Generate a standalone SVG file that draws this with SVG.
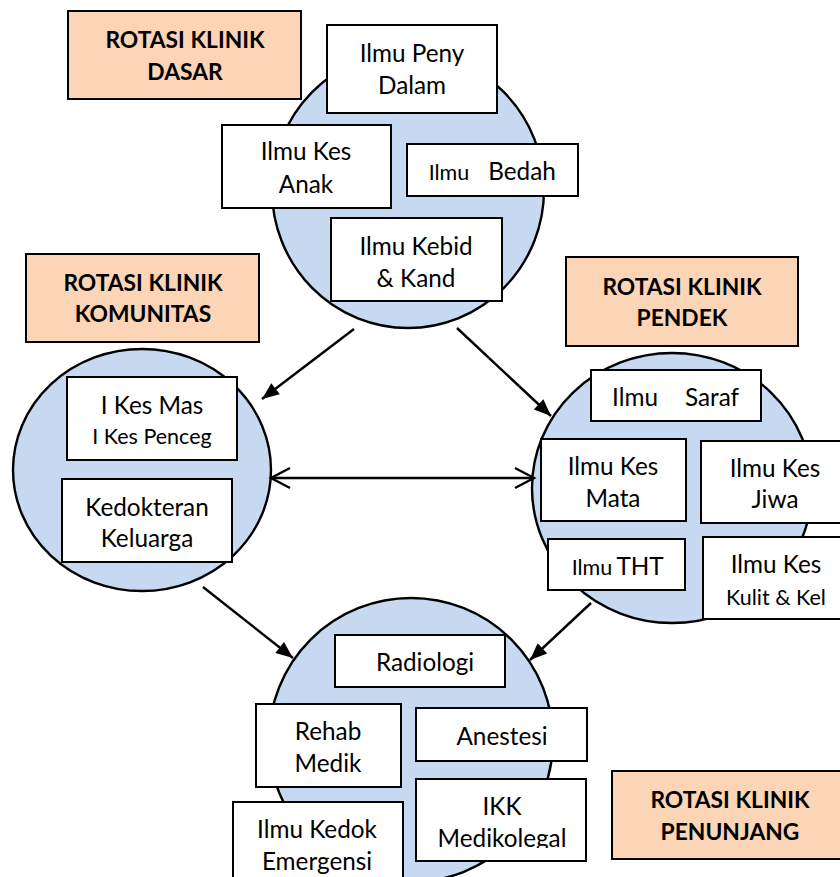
<svg xmlns="http://www.w3.org/2000/svg" width="840" height="877" viewBox="0 0 840 877">
  <style>
    .ring { fill: #c6d9f1; stroke: #000; stroke-width: 2.4; }
    .box { fill: #fff; stroke: #000; stroke-width: 2; }
    .label { fill: #fbd5b5; stroke: #000; stroke-width: 2; }
    .t { font-family: Lato, "Liberation Sans", sans-serif; font-size: 24.3px; fill: #000; text-anchor: middle; }
    .s { font-size: 21.5px; }
    .b { font-family: Lato, "Liberation Sans", sans-serif; font-size: 22.8px; font-weight: bold; fill: #000; text-anchor: middle; }
    .link { stroke: #000; stroke-width: 2.4; fill: none; }
  </style>
  <defs>
    <marker id="head" markerUnits="userSpaceOnUse" markerWidth="18" markerHeight="14" refX="17" refY="7" orient="auto" overflow="visible">
      <path d="M0,0 L17,7 L0,14 Z" fill="#000"/>
    </marker>
    <marker id="open" markerUnits="userSpaceOnUse" markerWidth="20" markerHeight="22" refX="19" refY="11" orient="auto-start-reverse" overflow="visible">
      <path d="M0,1 L19,11 L0,21" fill="none" stroke="#000" stroke-width="2.4"/>
    </marker>
    <clipPath id="medClip">
      <rect x="416" y="779" width="170" height="69"/>
    </clipPath>
  </defs>

  <!-- rotation circles -->
  <g id="circle-dasar"><ellipse class="ring" cx="408" cy="190" rx="136" ry="138"/></g>
  <g id="circle-komunitas"><ellipse class="ring" cx="142" cy="470" rx="129" ry="121"/></g>
  <g id="circle-pendek"><ellipse class="ring" cx="672" cy="488" rx="140" ry="135"/></g>
  <g id="circle-penunjang"><ellipse class="ring" cx="411" cy="740" rx="142" ry="142"/></g>

  <!-- connectors -->
  <g id="connectors">
    <line class="link" x1="354" y1="329" x2="262" y2="399" marker-end="url(#head)"/>
    <line class="link" x1="457" y1="328" x2="551" y2="416" marker-end="url(#head)"/>
    <line class="link" x1="271" y1="478" x2="534" y2="478" marker-start="url(#open)" marker-end="url(#open)"/>
    <line class="link" x1="203" y1="587" x2="293" y2="658" marker-end="url(#head)"/>
    <line class="link" x1="591" y1="603" x2="530" y2="660" marker-end="url(#head)"/>
  </g>

  <!-- group labels -->
  <g id="label-dasar">
    <rect class="label" x="68" y="11" width="233" height="88"/>
    <text class="b" x="185" y="48">ROTASI KLINIK</text>
    <text class="b" x="185" y="80">DASAR</text>
  </g>
  <g id="label-komunitas">
    <rect class="label" x="26" y="254" width="233" height="88"/>
    <text class="b" x="143" y="291">ROTASI KLINIK</text>
    <text class="b" x="143" y="322">KOMUNITAS</text>
  </g>
  <g id="label-pendek">
    <rect class="label" x="566" y="257" width="232" height="89"/>
    <text class="b" x="682" y="295">ROTASI KLINIK</text>
    <text class="b" x="682" y="326">PENDEK</text>
  </g>
  <g id="label-penunjang">
    <rect class="label" x="612" y="771" width="240" height="88"/>
    <text class="b" x="730" y="808">ROTASI KLINIK</text>
    <text class="b" x="730" y="840">PENUNJANG</text>
  </g>

  <!-- rotasi klinik dasar -->
  <g id="node-peny-dalam">
    <rect class="box" x="327" y="25" width="170" height="88"/>
    <text class="t" x="412" y="62">Ilmu Peny</text>
    <text class="t" x="412" y="94">Dalam</text>
  </g>
  <g id="node-kes-anak">
    <rect class="box" x="222" y="125" width="169" height="83"/>
    <text class="t" x="306" y="160">Ilmu Kes</text>
    <text class="t" x="306" y="193">Anak</text>
  </g>
  <g id="node-bedah">
    <rect class="box" x="407" y="144" width="171" height="52"/>
    <text class="t s" x="449" y="180">Ilmu</text>
    <text class="t" x="522" y="180">Bedah</text>
  </g>
  <g id="node-kebid">
    <rect class="box" x="331" y="218" width="171" height="83"/>
    <text class="t" x="416" y="255">Ilmu Kebid</text>
    <text class="t" x="416" y="287">&amp; Kand</text>
  </g>

  <!-- rotasi klinik komunitas -->
  <g id="node-kes-mas">
    <rect class="box" x="67" y="377" width="170" height="83"/>
    <text class="t" x="152" y="414">I Kes Mas</text>
    <text class="t s" x="152" y="444">I Kes Penceg</text>
  </g>
  <g id="node-kedokteran-keluarga">
    <rect class="box" x="62" y="479" width="170" height="83"/>
    <text class="t" x="147" y="516">Kedokteran</text>
    <text class="t" x="147" y="547">Keluarga</text>
  </g>

  <!-- rotasi klinik pendek -->
  <g id="node-saraf">
    <rect class="box" x="591" y="370" width="170" height="51"/>
    <text class="t" x="635" y="406">Ilmu</text>
    <text class="t" x="712" y="406">Saraf</text>
  </g>
  <g id="node-mata">
    <rect class="box" x="541" y="439" width="145" height="82"/>
    <text class="t" x="613" y="475">Ilmu Kes</text>
    <text class="t" x="613" y="507">Mata</text>
  </g>
  <g id="node-jiwa">
    <rect class="box" x="701" y="441" width="150" height="82"/>
    <text class="t" x="775" y="477">Ilmu Kes</text>
    <text class="t" x="775" y="508">Jiwa</text>
  </g>
  <g id="node-tht">
    <rect class="box" x="548" y="539" width="137" height="51"/>
    <text class="t s" x="592" y="575">Ilmu</text>
    <text class="t" x="640" y="575">THT</text>
  </g>
  <g id="node-kulit">
    <rect class="box" x="703" y="537" width="148" height="82"/>
    <text class="t" x="776" y="573">Ilmu Kes</text>
    <text class="t s" x="776" y="605">Kulit &amp; Kel</text>
  </g>

  <!-- rotasi klinik penunjang -->
  <g id="node-radiologi">
    <rect class="box" x="335" y="635" width="170" height="52"/>
    <text class="t" x="425" y="671">Radiologi</text>
  </g>
  <g id="node-rehab">
    <rect class="box" x="256" y="704" width="145" height="83"/>
    <text class="t" x="328" y="740">Rehab</text>
    <text class="t" x="328" y="772">Medik</text>
  </g>
  <g id="node-anestesi">
    <rect class="box" x="416" y="708" width="171" height="53"/>
    <text class="t" x="502" y="745">Anestesi</text>
  </g>
  <g id="node-ikk">
    <rect class="box" x="416" y="779" width="170" height="82"/>
    <text class="t" x="502" y="815">IKK</text>
    <text class="t" x="502" y="847" clip-path="url(#medClip)">Medikolegal</text>
  </g>
  <g id="node-emergensi">
    <rect class="box" x="233" y="802" width="170" height="90"/>
    <text class="t" x="317" y="838">Ilmu Kedok</text>
    <text class="t" x="317" y="870">Emergensi</text>
  </g>
</svg>
